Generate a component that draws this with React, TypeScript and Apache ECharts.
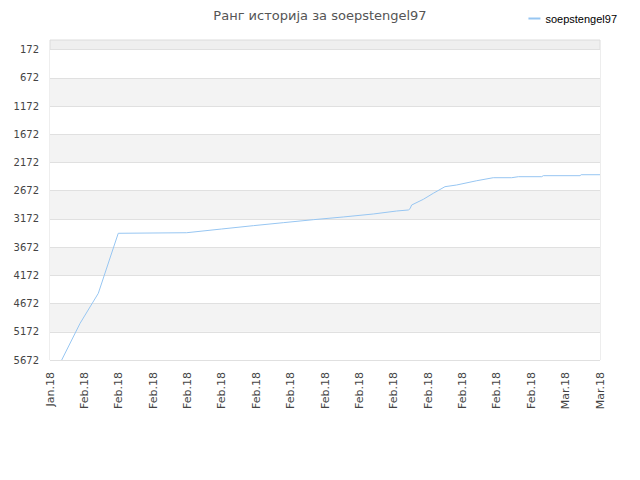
import * as echarts from 'echarts';
import { useEffect, useRef } from 'react';

const playerName = 'soepstengel97';

// x ticks: every 2 days from Jan 31 2018 to Mar 4 2018
const xTickLabels = [
  'Jan.18', 'Feb.18', 'Feb.18', 'Feb.18', 'Feb.18', 'Feb.18', 'Feb.18', 'Feb.18', 'Feb.18',
  'Feb.18', 'Feb.18', 'Feb.18', 'Feb.18', 'Feb.18', 'Feb.18', 'Mar.18', 'Mar.18',
];

const yTickValues = [172, 672, 1172, 1672, 2172, 2672, 3172, 3672, 4172, 4672, 5172, 5672];

// day offset from first tick
const days = [
  0.68, 1.75, 2.81, 3.97, 7.95, 9.99, 11.83, 13.57, 15.32, 17.06, 18.81, 20.17, 20.85,
  20.95, 21.04, 21.72, 22.3, 22.98, 23.66, 24.83, 25.79, 26.86, 27.25, 28.61, 28.7, 30.84,
  30.9, 32,
];

const ranks = [
  5672, 5022, 4490, 3426, 3416, 3350, 3291, 3238, 3185, 3137, 3084, 3031, 3013,
  2990, 2925, 2824, 2717, 2600, 2570, 2494, 2441, 2441, 2423, 2423, 2405, 2405,
  2388, 2388,
];

function App() {
  const chartRef = useRef(null);

  useEffect(() => {
    document.body.style.margin = '0';
    const myChart = echarts.init(chartRef.current, null, { renderer: 'svg' });

    const option = {
      animation: false,
      title: {
        text: 'Ранг историја за ' + playerName,
        left: 'center',
        top: 4,
        textStyle: {
          fontFamily: 'DejaVu Sans',
          fontSize: 13,
          fontWeight: 'normal',
          color: '#555',
        },
      },
      legend: {
        right: 18,
        top: 8,
        itemWidth: 12,
        itemHeight: 2,
        itemGap: 6,
        icon: 'rect',
        textStyle: {
          fontFamily: 'Liberation Sans',
          fontSize: 11,
          color: '#000',
        },
        data: [playerName],
      },
      grid: {
        left: 50,
        right: 40,
        top: 40,
        bottom: 120,
        show: true,
        backgroundColor: '#efefef',
        borderColor: '#dcdcdc',
        borderWidth: 1,
      },
      xAxis: {
        type: 'value',
        min: 0,
        max: 32,
        interval: 2,
        axisLine: { show: false },
        axisTick: { show: false },
        splitLine: { show: false },
        axisLabel: {
          rotate: 90,
          fontFamily: 'DejaVu Sans',
          fontSize: 11,
          color: '#444',
          margin: 12,
          formatter: (v: number) => xTickLabels[Math.round(v / 2)] ?? '',
        },
      },
      yAxis: {
        type: 'value',
        inverse: true,
        min: 0,
        max: 5672,
        axisLine: { show: false },
        axisTick: { show: false, customValues: yTickValues },
        axisLabel: {
          customValues: yTickValues,
          fontFamily: 'DejaVu Sans',
          fontSize: 10,
          color: '#444',
          margin: 11,
          formatter: (v: number) => String(v),
        },
        splitLine: { show: true, lineStyle: { color: '#e0e0e0', width: 1 } },
        splitArea: { show: true, areaStyle: { color: ['#ffffff', '#f3f3f3'] } },
      },
      series: [
        {
          name: playerName,
          type: 'line',
          showSymbol: false,
          symbol: 'none',
          lineStyle: { color: '#97c6f2', width: 1 },
          itemStyle: { color: '#97c6f2' },
          data: days.map((d, i) => [d, ranks[i]]),
        },
      ],
    };

    myChart.setOption(option);

    return () => {
      myChart.dispose();
    };
  }, []);

  return <div ref={chartRef} style={{ width: '640px', height: '480px' }}></div>;
}

export default App;
